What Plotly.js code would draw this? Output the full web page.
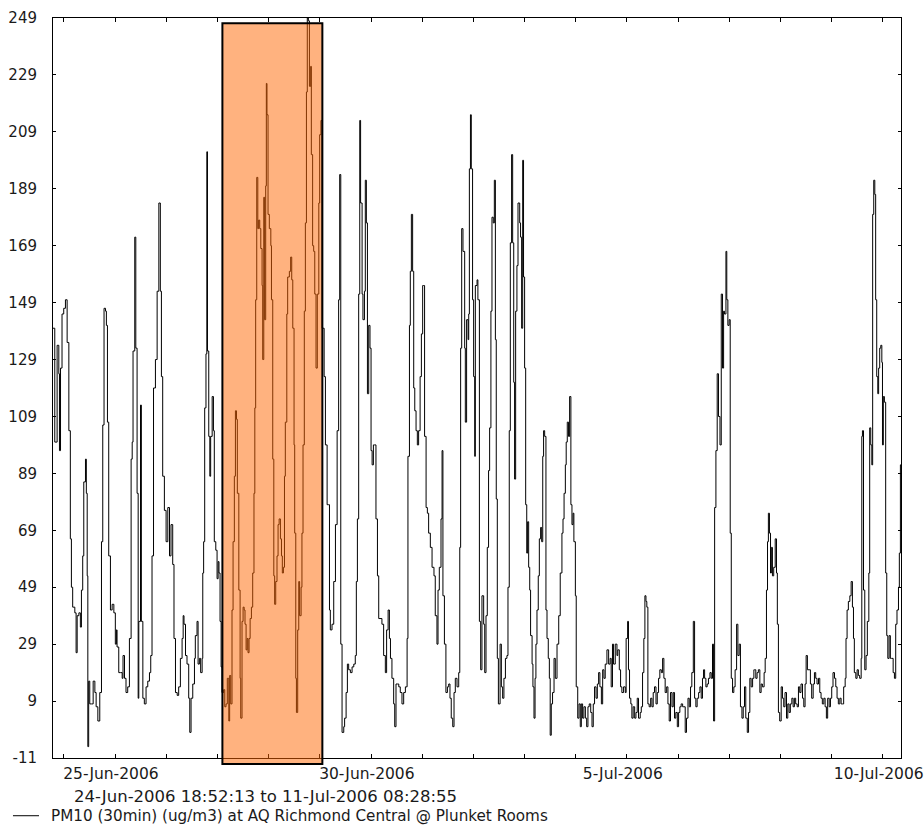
<!DOCTYPE html>
<html>
<head>
<meta charset="utf-8">
<script src="https://cdn.plot.ly/plotly-3.0.1.min.js"></script>
<style>html,body{margin:0;padding:0;background:#fff;}#chart{width:924px;height:829px;}</style>
</head>
<body>
<div id="chart"></div>
<script>
// Hours since 25-Jun-2006 00:00 for each reading
const hoursSinceJun25 = [
-5.1297,-4.3,-3.2,-2.4,-2.1,-1.6,-0.9,-0.1,0.7,1.5,2.3,3.0,3.5,4.1,5.1,5.7,6.2,7.0,7.7,8.2,8.8,9.3,10.1,10.5,10.9,11.2,11.6,12.1,12.9,13.7,14.5,15.1,15.9,16.8,17.6,18.2,18.8,19.5,19.9,20.4,21.0,21.8,22.6,23.4,24.1,24.6,24.9,25.7,26.5,27.3,27.7,28.4,29.1,29.9,30.7,31.5,32.0,32.4,33.2,33.7,34.3,34.8,35.1,35.9,36.3,37.0,37.7,38.5,39.3,40.1,40.7,41.3,42.0,42.9,43.7,44.5,45.2,45.7,46.3,47.1,47.9,48.7,49.5,50.2,51.0,51.6,52.3,53.1,53.8,54.6,55.4,55.9,56.3,57.0,57.7,58.5,59.0,59.6,60.4,61.2,
61.6,62.4,62.9,63.5,64.1,64.8,65.1,65.5,66.0,66.6,67.0,67.3,67.9,68.4,68.8,69.5,70.1,70.5,71.2,71.8,72.3,72.7,73.2,73.7,74.1,74.9,75.4,76.0,76.6,77.3,77.7,78.2,78.8,79.3,79.9,80.4,80.9,81.3,82.0,82.6,82.9,83.5,84.0,84.5,84.9,85.4,85.9,86.3,86.8,87.3,87.9,88.5,89.1,89.5,89.9,90.4,90.9,91.3,91.8,92.3,92.9,93.2,93.7,94.1,94.6,94.9,95.2,95.7,96.3,97.0,97.3,97.9,98.4,98.8,99.3,99.9,100.4,100.9,101.5,102.0,102.4,102.9,103.4,103.8,104.5,104.9,105.7,106.3,106.8,107.3,107.9,108.2,108.7,109.0,109.6,110.1,110.5,111.2,111.6,112.1,112.7,113.2,113.7,114.1,114.6,115.1,115.7,116.0,116.6,117.1,117.6,118.2,118.8,119.5,119.9,120.5,121.0,121.5,122.0,122.6,
123.4,124.1,124.5,124.9,125.7,126.5,127.3,128.1,128.8,129.3,129.8,130.4,131.2,131.6,132.3,132.9,133.5,134.3,135.1,135.9,136.6,137.1,137.6,138.2,138.7,139.1,139.8,140.2,140.9,141.3,141.8,142.3,142.9,143.5,144.0,144.5,145.1,145.7,146.3,147.0,147.6,148.2,149.1,149.9,150.7,151.3,152.0,152.6,153.1,153.8,154.6,155.1,155.7,156.3,157.0,157.7,158.5,159.3,160.1,160.9,161.3,162.0,162.4,162.9,163.5,164.0,164.5,165.1,165.7,166.3,167.0,167.6,168.2,168.7,169.1,169.8,170.4,171.0,171.8,172.6,173.5,174.1,174.9,175.4,176.0,176.8,177.3,177.7,178.4,179.1,179.8,180.4,181.0,181.6,182.3,182.9,183.5,184.3,185.1,185.6,186.0,186.5,187.1,187.9,188.2,188.8,189.5,189.8,190.1,190.6,191.0,191.6,192.1,192.6,
192.9,193.7,194.1,194.8,195.4,196.0,196.8,197.3,197.9,198.5,199.1,199.6,200.2,200.7,201.3,201.8,202.3,202.7,203.2,203.7,204.5,205.1,205.7,206.3,207.0,207.7,208.2,208.8,209.3,209.9,210.4,210.9,211.3,211.8,212.4,212.9,213.7,214.1,214.6,215.1,215.5,216.0,216.5,217.0,217.4,217.9,218.4,218.8,219.5,219.9,220.4,220.9,221.3,221.8,222.4,222.9,223.5,224.0,224.5,224.9,225.4,226.0,226.5,227.1,227.6,228.0,228.5,229.1,229.8,230.4,231.2,232.0,232.7,233.5,234.0,234.5,235.1,235.5,236.0,236.6,237.1,237.7,238.2,238.7,239.1,239.8,240.2,240.9,241.5,242.1,242.6,243.2,243.8,244.5,245.1,245.7,246.3,247.0,247.6,248.2,248.8,249.5,250.1,250.7,251.3,252.0,252.6,253.2,253.8,
254.6,255.4,256.1,256.6,257.2,257.7,258.5,259.3,259.7,260.4,261.0,261.6,262.4,263.2,263.6,264.3,264.7,265.2,265.8,266.3,266.9,267.6,268.2,268.8,269.4,270.2,270.7,271.3,271.9,272.4,272.9,273.3,273.8,274.4,275.1,275.7,276.3,276.9,277.6,278.2,278.8,279.4,280.1,280.7,281.3,281.9,282.6,283.2,283.8,284.4,285.1,285.7,286.3,286.9,287.6,288.2,288.8,289.4,290.1,290.7,291.3,291.9,292.6,293.2,293.8,294.4,295.1,295.7,296.3,296.9,297.6,298.2,298.8,299.4,299.9,300.4,301.0,301.6,302.2,302.9,303.5,304.1,304.6,305.1,305.7,306.3,306.9,307.6,308.2,308.8,309.3,309.7,310.4,310.8,311.3,311.9,312.4,312.9,313.5,314.1,314.7,315.4,316.0,316.6,317.2,317.9,318.5,319.1,319.7,320.4,321.0,321.6,322.2,322.9,323.5,
323.8,324.4,325.0,325.6,326.3,326.9,327.5,328.3,328.8,329.4,329.9,330.3,330.8,331.3,331.7,332.2,332.8,333.5,334.1,334.5,335.0,335.6,336.3,336.9,337.5,338.1,338.8,339.4,340.0,340.6,341.3,341.9,342.5,343.1,343.8,344.4,345.0,345.6,346.3,346.9,347.5,348.0,348.6,349.4,350.0,350.6,351.3,351.9,352.5,353.1,353.8,354.4,355.0,355.6,356.3,356.9,357.5,358.1,358.8,359.4,360.0,360.6,361.3,361.9,362.5,363.1,363.8,364.4,365.0,365.6,366.3,366.7,367.2,367.8,368.5,369.1,369.7,370.2,370.6,371.3,371.9,372.5,373.1,373.8,374.1,374.4,374.9,375.5,376.1,376.7,377.4,377.8,378.3,378.8,379.2,379.7,380.2,380.6,381.1,381.6,382.0,382.5,383.0,383.5,383.8,384.2,384.7,385.3,385.8,386.3,386.9,387.5,388.1,388.8,389.4,390.0,390.6,391.3,391.7,392.2,392.4819
];

// PM10 (30min) concentration, ug/m3
const pm10 = [
140,100,134,124,97,126,145,147,150,135,104,66,49,42,40,26,39,40,35,48,60,86,94,82,53,-7,16,8,8,16,12,7,2,12,65,106,147,146,141,107,60,41,43,40,29,34,28,19,19,17,25,17,12,14,31,94,100,132,172,133,82,10,37,113,37,10,8,14,16,19,25,60,119,129,153,184,153,123,88,76,65,77,60,71,57,31,12,11,14,24,31,39,36,25,22,10,-2,10,15,24,
32,37,22,24,19,24,54,65,112,131,202,132,102,88,102,116,104,65,62,52,58,54,37,21,12,13,7,8,17,2,18,8,41,65,88,111,108,82,48,17,3,37,42,41,36,27,31,26,31,38,42,54,82,112,150,193,175,178,175,168,155,129,186,143,190,226,215,180,175,169,150,94,53,43,51,60,71,73,66,60,54,56,88,107,145,158,160,165,157,140,99,68,17,5,34,51,39,49,68,99,146,177,223,249,248,225,232,201,169,167,152,126,152,184,208,213,140,140,123,99,
78,78,41,34,36,51,71,104,150,194,29,-2,0,3,12,22,20,19,21,22,25,51,73,152,213,184,152,143,153,192,177,117,141,133,97,92,99,99,73,53,38,38,36,25,19,34,41,31,24,17,8,0,15,15,14,12,8,12,14,31,95,141,160,180,160,119,111,104,99,104,123,138,155,155,102,77,75,68,63,56,53,39,29,48,56,73,97,46,29,12,14,15,10,3,0,12,17,14,19,63,133,175,167,133,107,143,136,145,196,215,196,150,123,95,
155,157,150,37,20,46,36,19,39,63,90,105,146,179,177,192,136,80,24,8,29,14,10,17,24,25,49,104,170,201,170,121,87,146,162,184,177,172,140,199,158,126,78,61,72,56,48,32,22,14,3,17,29,41,53,66,70,65,95,104,102,41,31,24,17,-3,8,12,24,17,29,39,54,68,73,82,92,100,107,102,116,78,71,75,65,46,14,3,8,0,8,3,7,3,0,7,8,5,0,8,14,10,15,19,14,8,20,17,22,
27,22,24,14,29,22,29,25,27,20,14,12,14,12,31,37,20,10,8,3,7,3,5,10,3,5,7,19,31,46,44,42,8,7,10,7,12,14,8,12,17,20,19,24,17,12,14,8,2,12,7,12,3,5,0,5,7,8,7,7,-2,3,10,7,14,19,37,10,7,10,12,14,10,17,20,17,14,15,17,19,17,29,2,77,97,124,109,99,152,126,146,145,167,150,141,143,68,17,12,14,20,36,25,29,7,3,7,14,3,-2,5,17,14,17,20,
20,17,19,20,12,15,14,19,24,48,65,75,68,54,63,53,56,66,54,36,5,2,14,10,7,12,3,8,5,8,10,7,10,8,7,14,12,15,10,7,15,25,20,20,15,10,15,19,17,15,17,12,10,8,10,7,3,10,7,10,14,19,17,14,10,8,10,8,8,14,17,31,41,44,46,51,42,31,19,17,20,18,17,24,102,104,48,20,25,37,54,105,99,92,180,192,187,150,123,117,126,133,134,128,99,116,114,54,32,24,32,24,24,19,17,36,41,49,61,92,92
];

const yTickVals = [-11, 9, 29, 49, 69, 89, 109, 129, 149, 169, 189, 209, 229, 249];
const xTickDates = ['2006-06-25', '2006-06-30', '2006-07-05', '2006-07-10'];
const seriesName = 'PM10 (30min) (ug/m3) at AQ Richmond Central @ Plunket Rooms';
const periodText = '24-Jun-2006 18:52:13 to 11-Jul-2006 08:28:55';
const rangeStart = '2006-06-24 18:52:13';
const rangeEnd = '2006-07-11 08:28:55';
const highlightStart = '2006-06-28 02:18:00';
const highlightEnd = '2006-06-30 01:10:00';

function toDateStr(h) {
  const ms = Date.UTC(2006, 5, 25) + Math.round(h * 3600000);
  return new Date(ms).toISOString().replace('T', ' ').slice(0, 19);
}
const times = hoursSinceJun25.map(toDateStr);
const MONTHS = ['Jan','Feb','Mar','Apr','May','Jun','Jul','Aug','Sep','Oct','Nov','Dec'];
function dayLabel(d) {
  const dt = new Date(d + 'T00:00:00Z');
  return dt.getUTCDate() + '-' + MONTHS[dt.getUTCMonth()] + '-' + dt.getUTCFullYear();
}

const FONT = 'DejaVu Sans, Arial, sans-serif';
const TXT = '#1a1a1a';

const trace = {
  type: 'scatter',
  mode: 'lines',
  x: times,
  y: pm10,
  name: seriesName,
  line: {color: '#000000', width: 1, shape: 'hv'},
  showlegend: false,
  hoverinfo: 'x+y'
};

const layout = {
  width: 924,
  height: 829,
  margin: {l: 53, r: 23, t: 18, b: 71, pad: 0},
  paper_bgcolor: '#ffffff',
  plot_bgcolor: '#ffffff',
  font: {family: FONT, size: 15, color: TXT},
  showlegend: false,
  xaxis: {
    type: 'date',
    range: [rangeStart, rangeEnd],
    tickmode: 'array',
    tickvals: xTickDates,
    ticktext: xTickDates.map(dayLabel),
    ticks: 'inside',
    ticklen: 4,
    tickwidth: 1,
    tickcolor: '#000',
    minor: {dtick: 86400000, tick0: '2006-06-25', ticks: 'inside', ticklen: 4, tickwidth: 1, tickcolor: '#000', showgrid: false},
    showline: true,
    linecolor: '#000',
    linewidth: 1,
    mirror: 'ticks',
    showgrid: false,
    zeroline: false,
    automargin: false,
    ticklabelshift: 47,
    ticklabelstandoff: 1,
    ticklabeloverflow: 'allow',
    tickfont: {family: FONT, size: 15.5, color: TXT},
    fixedrange: true
  },
  yaxis: {
    range: [-11, 249],
    tickmode: 'array',
    tickvals: yTickVals,
    ticktext: yTickVals.map(String),
    ticks: 'inside',
    ticklen: 3,
    tickwidth: 1,
    tickcolor: '#000',
    showline: true,
    linecolor: '#000',
    linewidth: 1,
    mirror: 'ticks',
    showgrid: false,
    zeroline: false,
    automargin: false,
    ticklabelstandoff: 12,
    tickfont: {family: FONT, size: 15, color: TXT},
    fixedrange: true
  },
  shapes: [
    {
      type: 'rect',
      xref: 'x',
      yref: 'paper',
      x0: highlightStart,
      x1: highlightEnd,
      y0: -0.008,
      y1: 0.993,
      fillcolor: 'rgba(255,101,0,0.5)',
      line: {color: '#000', width: 2},
      layer: 'above'
    },
    {
      // legend line sample
      type: 'line',
      xref: 'paper',
      yref: 'paper',
      x0: -0.0472,
      x1: -0.0165,
      y0: -0.078,
      y1: -0.078,
      line: {color: '#000', width: 1}
    }
  ],
  annotations: [
    {
      xref: 'paper',
      yref: 'paper',
      x: 0.0224,
      xanchor: 'left',
      y: -0.0527,
      yanchor: 'middle',
      text: periodText,
      showarrow: false,
      font: {family: FONT, size: 16.5, color: TXT}
    },
    {
      xref: 'paper',
      yref: 'paper',
      x: -0.0047,
      xanchor: 'left',
      y: -0.078,
      yanchor: 'middle',
      text: seriesName,
      showarrow: false,
      font: {family: FONT, size: 15.2, color: TXT}
    }
  ]
};

Plotly.newPlot('chart', [trace], layout, {displayModeBar: false, staticPlot: true});
</script>
</body>
</html>
